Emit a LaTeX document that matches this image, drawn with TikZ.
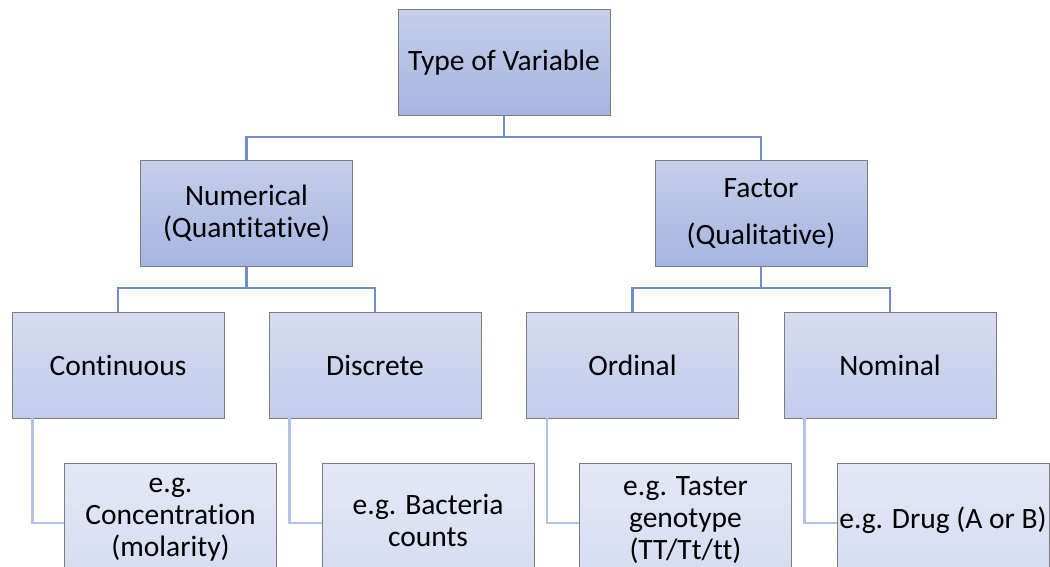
\documentclass[tikz,border=0pt]{standalone}
\usepackage{fontspec}
\setmainfont{Carlito}[Ligatures=NoCommon]
\definecolor{bordergray}{RGB}{125,125,125}
\definecolor{l1top}{RGB}{198,207,235}
\definecolor{l1bot}{RGB}{164,181,224}
\definecolor{l3top}{RGB}{214,220,241}
\definecolor{l3bot}{RGB}{194,205,236}
\definecolor{l4top}{RGB}{228,232,245}
\definecolor{l4bot}{RGB}{214,221,242}
\definecolor{linkdark}{RGB}{112,142,205}
\definecolor{linklight}{RGB}{180,194,230}
\begin{document}
\begin{tikzpicture}[x=1pt,y=-1pt,
  box/.style={draw=bordergray, line width=0.9pt, minimum width=212pt, minimum height=106pt,
    inner sep=0pt, align=center, font=\fontsize{29.5}{32}\selectfont},
  lvlone/.style={box, top color=l1top, bottom color=l1bot},
  lvlthree/.style={box, top color=l3top, bottom color=l3bot},
  lvlfour/.style={box, minimum height=114pt, top color=l4top, bottom color=l4bot},
  darklink/.style={draw=linkdark, line width=2.4pt},
  lightlink/.style={draw=linklight, line width=2.4pt}]
\path[use as bounding box, clip] (0,0) rectangle (1050,566);
\fill[white] (0,0) rectangle (1050,566);

% nodes
\node[lvlone] (top) at (504,62.5) {Type of Variable};
\node[lvlone] (num) at (246.5,213.5) {Numerical\\(Quantitative)};
\node[lvlone] (fac) at (761,213.5) {Factor\\[15pt](Qualitative)};

\node[lvlthree] (cont) at (118,365) {Continuous};
\node[lvlthree] (disc) at (375,365) {Discrete};
\node[lvlthree] (ord) at (632.5,365) {Ordinal};
\node[lvlthree] (nom) at (890,365) {Nominal};

\node[lvlfour] (ex1) at (170.5,520) {e.g.\\Concentration\\(molarity)};
\node[lvlfour] (ex2) at (428,520) {e.g. Bacteria\\counts};
\node[lvlfour] (ex3) at (685.5,520) {e.g. Taster\\genotype\\(TT/Tt/tt)};
\node[lvlfour] (ex4) at (943,520) {e.g. Drug (A or B)};

% bus coordinates
\coordinate (b1) at (504,137);
\coordinate (b2) at (246.5,288);
\coordinate (b3) at (761,288);

% connectors
\draw[darklink] (top.south) -- (b1) -| (num.north);
\draw[darklink] (b1) -| (fac.north);
\draw[darklink] (num.south) -- (b2) -| (cont.north);
\draw[darklink] (b2) -| (disc.north);
\draw[darklink] (fac.south) -- (b3) -| (ord.north);
\draw[darklink] (b3) -| (nom.north);

\draw[lightlink] ([xshift=21pt]cont.south west) |- ([yshift=-3pt]ex1.west);
\draw[lightlink] ([xshift=21pt]disc.south west) |- ([yshift=-3pt]ex2.west);
\draw[lightlink] ([xshift=21pt]ord.south west) |- ([yshift=-3pt]ex3.west);
\draw[lightlink] ([xshift=21pt]nom.south west) |- ([yshift=-3pt]ex4.west);
\end{tikzpicture}
\end{document}
